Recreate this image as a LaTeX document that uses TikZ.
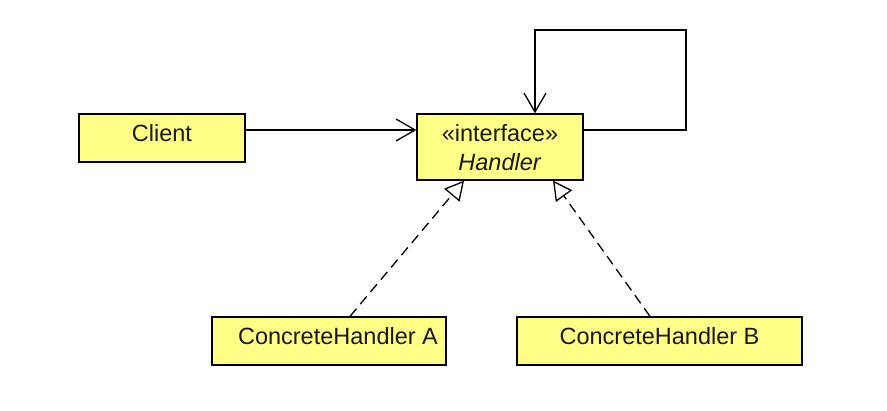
\documentclass[tikz,border=0pt]{standalone}
\usepackage{fontspec}
\setmainfont{Liberation Sans}
\usetikzlibrary{arrows.meta}
\definecolor{boxfill}{RGB}{255,255,136}
\definecolor{txt}{RGB}{25,25,25}
\tikzset{
  cls/.style={draw=black, fill=boxfill, line width=1.3pt, inner sep=0pt, font=\fontsize{23.5}{29}\selectfont, text=txt, align=center, text height=17pt, text depth=10pt},
  box/.style={draw=black, fill=boxfill, line width=1.3pt, inner sep=0pt},
  lbl/.style={font=\fontsize{23.5}{29}\selectfont, text=txt, inner sep=0pt, anchor=base},
  assoc/.style={line width=1.3pt, -{Straight Barb[length=19pt,width=22pt,line width=1.3pt]}},
  realize/.style={line width=1.3pt, dash pattern=on 10pt off 6pt, -{Triangle[open,length=19pt,width=20pt,line width=1.3pt,fill=white]}}
}
\begin{document}
\begin{tikzpicture}[x=1pt,y=-1pt]
\useasboundingbox (0,0) rectangle (887,411);
\node[cls, minimum width=166pt, minimum height=48pt] (client) at (162,138) {Client};
\node[box, minimum width=166pt, minimum height=66pt] (handler) at (500,147) {};
\node[lbl] (stereo) at (500,142) {«interface»};
\node[lbl] (hname) at (500,171) {\textit{Handler}};
\node[cls, minimum width=234pt, minimum height=48pt] (cha) at (329,341) {\hspace*{18pt}ConcreteHandler A};
\node[cls, minimum width=285pt, minimum height=48pt] (chb) at (659.5,341) {ConcreteHandler B};
\coordinate (loopTR) at (686,30);
\coordinate (loopTL) at (535,30);
\draw[assoc] ([yshift=8pt]client.east) -- ([yshift=17pt]handler.west);
\draw[assoc] ([yshift=17pt]handler.east) -| (loopTR) -- (loopTL) -- (loopTL |- handler.north);
\draw[realize] ([xshift=21pt]cha.north) -- ([xshift=-36pt]handler.south);
\draw[realize] ([xshift=-9.5pt]chb.north) -- ([xshift=53pt]handler.south);
\end{tikzpicture}
\end{document}
